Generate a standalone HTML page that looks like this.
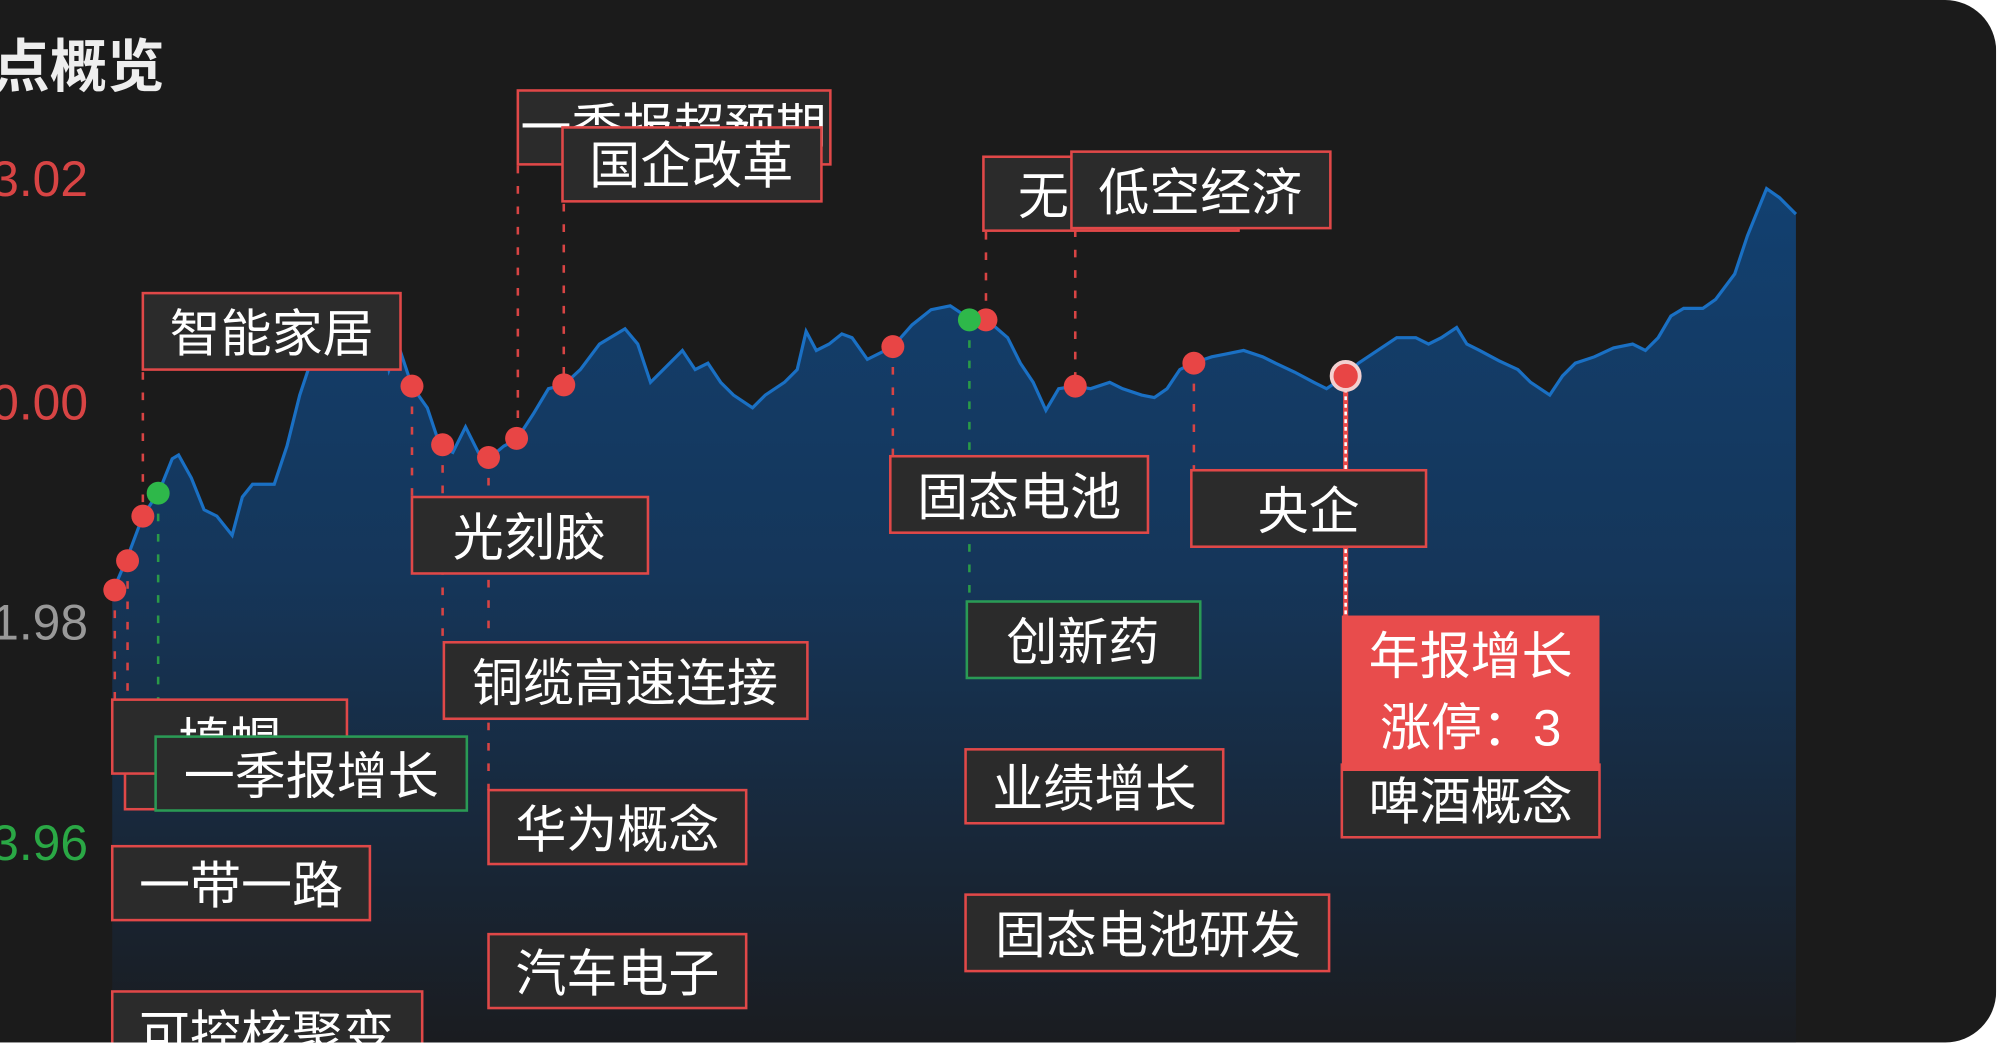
<!DOCTYPE html>
<html><head><meta charset="utf-8"><style>
html,body{margin:0;padding:0;background:#fff;width:2000px;height:1045px;overflow:hidden}
svg{display:block}
text{font-family:"Liberation Sans","Noto Sans CJK SC",sans-serif}
</style></head><body>
<svg width="2000" height="1045" viewBox="0 0 1568 820" preserveAspectRatio="none">
<defs>
<linearGradient id="g" x1="0" y1="0" x2="0" y2="1">
<stop offset="0" stop-color="#124070"/><stop offset="0.45" stop-color="#15365a"/><stop offset="1" stop-color="#1a1c20"/>
</linearGradient>
<clipPath id="c"><rect x="-40" y="0" width="1605" height="818" rx="40"/></clipPath>
</defs>
<rect x="0" y="0" width="1568" height="820" fill="#fff"/>
<g clip-path="url(#c)">
<rect x="-40" y="0" width="1605" height="818" fill="#1b1b1b"/>
<text x="-6" y="68" font-size="45" fill="#eee" font-weight="bold">点概览</text>
<g font-size="39" text-anchor="end">
<text x="69" y="154" fill="#d84444">3.02</text>
<text x="69" y="329" fill="#d84444">0.00</text>
<text x="69" y="502" fill="#999">1.98</text>
<text x="69" y="675" fill="#2aa845">3.96</text>
</g>
<path d="M88,465 L100,437 112,405 125,385 135,360 140,357 150,375 160,400 170,405 182,420 190,390 198,380 215,380 225,350 235,310 245,280 255,268 275,262 300,262 305,290 312,270 323,303 335,320 345,350 355,355 365,335 375,355 383,360 395,350 405,345 418,325 430,305 442,302 455,290 470,270 490,258 500,270 510,300 520,290 535,275 545,290 555,285 565,300 575,310 590,320 600,310 615,300 625,290 632,260 640,275 650,270 660,262 668,265 680,282 700,272 715,255 730,243 745,240 760,250 775,252 790,265 800,285 810,300 820,322 830,305 843,303 855,305 870,300 880,305 895,310 905,312 915,305 925,290 935,285 950,280 960,278 975,275 990,280 1000,285 1015,292 1030,300 1040,305 1055,295 1065,285 1080,275 1095,265 1110,265 1120,270 1130,265 1142,257 1150,270 1160,275 1175,283 1190,290 1200,300 1215,310 1225,295 1235,285 1250,280 1265,273 1280,270 1290,275 1300,265 1310,248 1320,242 1335,242 1345,235 1360,215 1370,185 1385,148 1395,155 1408,168 L1408,818 L88,818 Z" fill="url(#g)"/>
<path d="M88,465 L100,437 112,405 125,385 135,360 140,357 150,375 160,400 170,405 182,420 190,390 198,380 215,380 225,350 235,310 245,280 255,268 275,262 300,262 305,290 312,270 323,303 335,320 345,350 355,355 365,335 375,355 383,360 395,350 405,345 418,325 430,305 442,302 455,290 470,270 490,258 500,270 510,300 520,290 535,275 545,290 555,285 565,300 575,310 590,320 600,310 615,300 625,290 632,260 640,275 650,270 660,262 668,265 680,282 700,272 715,255 730,243 745,240 760,250 775,252 790,265 800,285 810,300 820,322 830,305 843,303 855,305 870,300 880,305 895,310 905,312 915,305 925,290 935,285 950,280 960,278 975,275 990,280 1000,285 1015,292 1030,300 1040,305 1055,295 1065,285 1080,275 1095,265 1110,265 1120,270 1130,265 1142,257 1150,270 1160,275 1175,283 1190,290 1200,300 1215,310 1225,295 1235,285 1250,280 1265,273 1280,270 1290,275 1300,265 1310,248 1320,242 1335,242 1345,235 1360,215 1370,185 1385,148 1395,155 1408,168" fill="none" stroke="#1a70c4" stroke-width="2.5"/>
<g stroke="#d84444" stroke-width="2" stroke-dasharray="6 10" fill="none">
<path d="M112,292V405M406,130V344M442,160V302M323,303V390M347,349V504M383,359V620M90,463V549M100,440V549M700,272V358M773,182V251M843,180V303M936,285V369"/>
</g>
<g stroke="#2a9a48" stroke-width="2" stroke-dasharray="6 10"><path d="M124,387V549M760,251V472"/></g>
<path d="M1055,305V483" stroke="#e84848" stroke-width="4"/>
<path d="M1055,305V483" stroke="#fff" stroke-width="2" stroke-dasharray="3 3"/>
<g stroke-width="2" fill="#2b2b2b" stroke="#e04848">
<rect x="406" y="71" width="245" height="58"/>
<rect x="112" y="230" width="202" height="60"/>
<rect x="323" y="390" width="185" height="60"/>
<rect x="348" y="504" width="285" height="60"/>
<rect x="98" y="585" width="40" height="50"/>
<rect x="88" y="549" width="184" height="58"/>
<rect x="383" y="620" width="202" height="58"/>
<rect x="88" y="664" width="202" height="58"/>
<rect x="383" y="733" width="202" height="58"/>
<rect x="88" y="778" width="243" height="60"/>
<rect x="771" y="123" width="200" height="58"/>
<rect x="698" y="358" width="202" height="60"/>
<rect x="934" y="369" width="184" height="60"/>
<rect x="757" y="588" width="202" height="58"/>
<rect x="757" y="702" width="285" height="60"/>
<rect x="1052" y="600" width="202" height="57"/>
<rect x="758" y="472" width="183" height="60" stroke="#2a9a55"/>
</g>
<rect x="1052" y="483" width="202" height="122" fill="#e84c4c"/>
<g font-size="40" fill="#fff" text-anchor="middle">
<text x="528" y="114">一季报超预期</text>
<rect x="441" y="100" width="203" height="58" fill="#2b2b2b" stroke="#e04848" stroke-width="2"/>
<text x="542" y="144">国企改革</text>
<text x="213" y="276">智能家居</text>
<text x="415" y="436">光刻胶</text>
<text x="490" y="550">铜缆高速连接</text>
<text x="180" y="596">填帽</text>
<rect x="122" y="578" width="244" height="58" fill="#2b2b2b" stroke="#2a9a55" stroke-width="2"/>
<text x="244" y="623">一季报增长</text>
<text x="484" y="665">华为概念</text>
<text x="189" y="709">一带一路</text>
<text x="484" y="778">汽车电子</text>
<text x="209" y="826">可控核聚变</text>
<text x="798" y="168" text-anchor="start">无人机</text>
<rect x="840" y="119" width="203" height="60" fill="#2b2b2b" stroke="#e04848" stroke-width="2"/>
<text x="941" y="165">低空经济</text>
<text x="799" y="404">固态电池</text>
<text x="1026" y="415">央企</text>
<text x="849" y="518">创新药</text>
<text x="858" y="633">业绩增长</text>
<text x="900" y="748">固态电池研发</text>
<text x="1153" y="529">年报增长</text>
<text x="1153" y="585">涨停：3</text>
<text x="1153" y="643">啤酒概念</text>
</g>
<g fill="#e84545">
<circle cx="90" cy="463" r="9"/><circle cx="100" cy="440" r="9"/><circle cx="112" cy="405" r="9"/>
<circle cx="323" cy="303" r="9"/><circle cx="347" cy="349" r="9"/><circle cx="383" cy="359" r="9"/><circle cx="405" cy="344" r="9"/><circle cx="442" cy="302" r="9"/>
<circle cx="700" cy="272" r="9"/><circle cx="773" cy="251" r="9"/><circle cx="843" cy="303" r="9"/><circle cx="936" cy="285" r="9"/>
</g>
<g fill="#2eb84a"><circle cx="124" cy="387" r="9"/><circle cx="760" cy="251" r="9"/></g>
<circle cx="1055" cy="295" r="11" fill="#e84545" stroke="#f3d0d0" stroke-width="3"/>
</g>
</svg>
</body></html>
